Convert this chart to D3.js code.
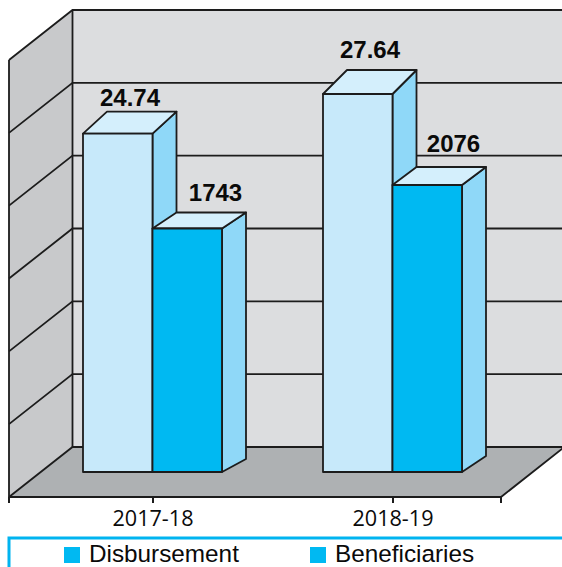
<!DOCTYPE html>
<html><head><meta charset="utf-8">
<script src="https://cdnjs.cloudflare.com/ajax/libs/d3/7.8.5/d3.min.js"></script>
<style>html,body{margin:0;padding:0;background:#fff}svg{display:block}</style>
</head><body><svg id="c" width="562" height="567"></svg>
<script>
const categories = ["2017-18", "2018-19"];
const seriesNames = ["Disbursement", "Beneficiaries"];
const disbursement = [24.74, 27.64];
const beneficiaries = [1743, 2076];
const gridLevels = [0, 1, 2, 3, 4, 5, 6];

const W = 562, H = 567;
const C = {wall:"#dcdddf", side:"#c8c9cb", floor:"#aeb1b3", light:"#c7e9fa", top:"#d4effc", face:"#8fd8f8", dark:"#00b9f2", ink:"#1c1c1c", legend:"#00b4f0"};
const svg = d3.select("#c");

// Frame: oblique box
const back = {x:72.5, bottom:447, top:10};
const dep = {x:63.5, y:50};
const frontRight = 501;
const grid = d3.scaleLinear().domain([0, 6]).range([back.bottom, back.top]);
const x = d3.scalePoint().domain(categories).range([152.5, 392.5]);
const yD = d3.scaleLinear().domain([0, 27.64]).range([472, 94]);
const yB = d3.scaleLinear().domain([0, 1743, 2076]).range([472, 228.5, 185]);
const barW = 69.5, depX = 24;
const line = d3.line();

svg.append("rect").attr("x", back.x).attr("y", back.top).attr("width", W - back.x).attr("height", back.bottom - back.top).attr("fill", C.wall);
svg.append("path").attr("fill", C.side).attr("d", line([[back.x,back.top],[back.x,back.bottom],[back.x-dep.x,back.bottom+dep.y],[back.x-dep.x,back.top+dep.y]])+"Z");
svg.append("path").attr("fill", C.floor).attr("d", line([[back.x,back.bottom],[frontRight+dep.x,back.bottom],[frontRight,back.bottom+dep.y],[back.x-dep.x,back.bottom+dep.y]])+"Z");

const gl = svg.append("g").attr("fill","none").attr("stroke",C.ink).attr("stroke-width",1.8);
gl.selectAll("path.g").data(gridLevels).join("path").attr("class","g")
  .attr("d", d => line([[back.x-dep.x, grid(d)+dep.y],[back.x, grid(d)],[W, grid(d)]]));
gl.append("path").attr("d", line([[back.x,back.top],[back.x,back.bottom]]));
gl.append("path").attr("d", line([[back.x-dep.x,back.top+dep.y],[back.x-dep.x,back.bottom+dep.y],[frontRight,back.bottom+dep.y],[frontRight+dep.x,back.bottom]]));

// Bars
const topRise = [[22,16],[24,18]], baseRise = [13,16];
function bar(g, x0, yTop, rise, bRise, fill){
  const x1 = x0 + barW, y0 = 472;
  g.append("path").attr("fill",C.face).attr("d", line([[x1,yTop],[x1+depX,yTop-rise],[x1+depX,y0-bRise],[x1,y0]])+"Z");
  g.append("path").attr("fill",C.top).attr("d", line([[x0,yTop],[x0+depX,yTop-rise],[x1+depX,yTop-rise],[x1,yTop]])+"Z");
  g.append("rect").attr("x",x0).attr("y",yTop).attr("width",barW).attr("height",y0-yTop).attr("fill",fill);
}
const bars = svg.append("g").attr("stroke",C.ink).attr("stroke-width",1.8).attr("stroke-linejoin","round");
categories.forEach((c,i) => {
  bar(bars, x(c)-barW, yD(disbursement[i]), topRise[i][0], baseRise[i], C.light);
  bar(bars, x(c), yB(beneficiaries[i]), topRise[i][1], baseRise[i], C.dark);
});

// Value labels
const labelLift = [[28,28],[36,33]], labelShift = [[-22.5,63],[-22.5,61]];
const vl = svg.append("g").attr("font-family","'Liberation Sans',Arial,sans-serif").attr("font-weight","700").attr("font-size",24).attr("fill","#0a0a0a").attr("text-anchor","middle");
categories.forEach((c,i) => {
  vl.append("text").attr("x", x(c)+labelShift[i][0]).attr("y", yD(disbursement[i])-labelLift[i][0]).text(disbursement[i].toFixed(2));
  vl.append("text").attr("x", x(c)+labelShift[i][1]).attr("y", yB(beneficiaries[i])-labelLift[i][1]).text(beneficiaries[i]);
});

// Category axis
const ax = svg.append("g").attr("transform",`translate(0,${back.bottom+dep.y})`)
  .call(d3.axisBottom(x).tickSize(6).tickPadding(8).tickSizeOuter(0));
ax.select(".domain").remove();
ax.selectAll("line").attr("stroke",C.ink).attr("stroke-width",2);
ax.selectAll("text").attr("font-family","'Open Sans',sans-serif").attr("font-size",21.6).attr("fill","#0a0a0a");
ax.selectAll("line.end").data([back.x-dep.x, frontRight]).join("line").attr("class","end")
  .attr("x1",d=>d).attr("x2",d=>d).attr("y1",0).attr("y2",6).attr("stroke",C.ink).attr("stroke-width",2);

// Legend
svg.append("path").attr("fill","none").attr("stroke",C.legend).attr("stroke-width",3)
  .attr("d", line([[9,H+4],[9,538],[W+4,538]]));
const lx = d3.scaleOrdinal().domain(seriesNames).range([64, 310]);
const lg = svg.append("g").selectAll("g").data(seriesNames).join("g").attr("transform", d=>`translate(${lx(d)},547)`);
lg.append("rect").attr("width",16).attr("height",16).attr("fill",C.dark);
lg.append("text").attr("x",25).attr("y",15).attr("font-family","'Liberation Sans',Arial,sans-serif").attr("font-size",24.3).attr("fill","#0a0a0a").text(d=>d);
</script></body></html>
